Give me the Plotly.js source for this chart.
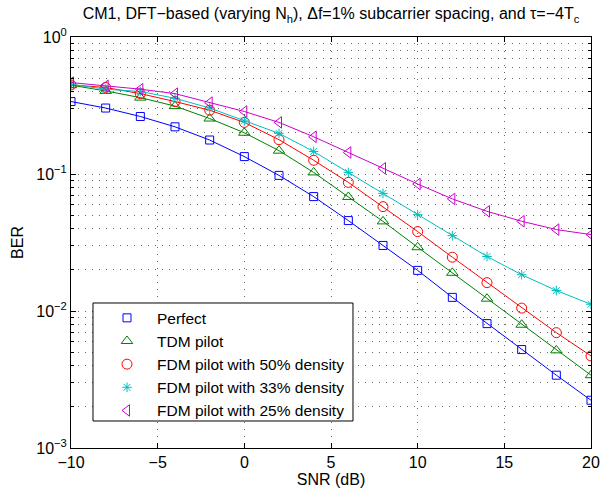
<!DOCTYPE html>
<html>
<head>
<meta charset="utf-8">
<script src="https://cdn.plot.ly/plotly-3.0.1.min.js"></script>
<style>html,body{margin:0;padding:0;background:#fff;}#plot{width:600px;height:493px;}</style>
</head>
<body>
<div id="plot"></div>
<script>
// ---- data ----
var snr = [-10, -8, -6, -4, -2, 0, 2, 4, 6, 8, 10, 12, 14, 16, 18, 20];
var perfect = [0.338, 0.303, 0.263, 0.221, 0.177, 0.134, 0.0977, 0.0684, 0.0457, 0.0301, 0.0198, 0.01257, 0.00809, 0.00523, 0.0034, 0.00223];
var tdmPilot = [0.445, 0.404, 0.361, 0.313, 0.254, 0.200, 0.148, 0.1027, 0.068, 0.0451, 0.0292, 0.0190, 0.0123, 0.00794, 0.00516, 0.0034];
var fdm50 = [0.447, 0.428, 0.386, 0.338, 0.292, 0.238, 0.178, 0.126, 0.0869, 0.0578, 0.038, 0.0247, 0.0161, 0.0105, 0.00695, 0.0047];
var fdm33 = [0.452, 0.416, 0.400, 0.357, 0.303, 0.244, 0.198, 0.146, 0.1027, 0.0722, 0.0505, 0.0355, 0.025, 0.0184, 0.0141, 0.0112];
var fdm25 = [0.465, 0.44, 0.416, 0.386, 0.332, 0.286, 0.238, 0.187, 0.1436, 0.110, 0.0845, 0.0658, 0.0534, 0.0452, 0.0393, 0.0361];
var seriesNames = ['Perfect', 'TDM pilot', 'FDM pilot with 50% density', 'FDM pilot with 33% density', 'FDM pilot with 25% density'];
var xTickVals = [-10, -5, 0, 5, 10, 15, 20];
var yTickVals = [0.001, 0.01, 0.1, 1];
var yTickText = ['10<sup>\u22123</sup>', '10<sup>\u22122</sup>', '10<sup>\u22121</sup>', '10<sup>0</sup>'];
var yMinorVals = [];
[0.001, 0.01, 0.1].forEach(function (d) { for (var k = 2; k <= 9; k++) yMinorVals.push(d * k); });

var seriesY = [perfect, tdmPilot, fdm50, fdm33, fdm25];
var colors = ['#0000ff', '#008000', '#ff0000', '#00bfbf', '#cc00cc'];
var symbols = ['square-open', 'triangle-up-open', 'circle-open', 'asterisk-open', 'triangle-left-open'];
var sizes = [8, 10, 10, 8, 10];

var FONT = 'Liberation Sans, Arial, Helvetica, sans-serif';
var traces = [];
seriesY.forEach(function (ys, i) {
  traces.push({
    x: snr, y: ys, type: 'scatter', mode: 'lines+markers', showlegend: false,
    line: {color: colors[i], width: 1},
    marker: {symbol: symbols[i], size: sizes[i], color: colors[i], line: {color: colors[i], width: 1}}
  });
});
seriesY.forEach(function (ys, i) {
  traces.push({
    x: [null], y: [null], type: 'scatter', mode: 'markers', name: seriesNames[i], showlegend: true,
    marker: {symbol: symbols[i], size: sizes[i], color: colors[i], line: {color: colors[i], width: 1}}
  });
});

var gridDash = '1px,6px';
var gridColor = '#666';
var layout = {
  width: 600, height: 493,
  margin: {l: 71, r: 9, t: 37, b: 45, pad: 0},
  paper_bgcolor: '#ffffff', plot_bgcolor: '#ffffff',
  font: {family: FONT, size: 16, color: '#000'},
  title: {
    text: 'CM1, DFT\u2212based (varying N<sub>h</sub>), \u0394f=1% subcarrier spacing, and \u03c4=\u22124T<sub>c</sub>',
    font: {family: FONT, size: 16, color: '#000'},
    x: 0.5, xref: 'paper', xanchor: 'center', y: 0.972, yref: 'container', yanchor: 'middle'
  },
  xaxis: {
    range: [-10, 20], tickmode: 'array', tickvals: xTickVals,
    ticks: 'inside', ticklen: 5, tickcolor: '#000', tickwidth: 1,
    showline: true, linecolor: '#000', linewidth: 1, mirror: 'ticks',
    showgrid: true, gridcolor: gridColor, gridwidth: 1, griddash: gridDash,
    zeroline: false, tickfont: {family: FONT, size: 16, color: '#000'},
    title: {text: 'SNR (dB)', font: {family: FONT, size: 16, color: '#000'}, standoff: 2}
  },
  yaxis: {
    type: 'log', range: [-3, 0], tickmode: 'array', tickvals: yTickVals, ticktext: yTickText,
    ticks: 'inside', ticklen: 5, tickcolor: '#000', tickwidth: 1,
    showline: true, linecolor: '#000', linewidth: 1, mirror: 'ticks',
    showgrid: true, gridcolor: gridColor, gridwidth: 1, griddash: gridDash,
    zeroline: false, tickfont: {family: FONT, size: 16, color: '#000'},
    minor: {tickmode: 'array', tickvals: yMinorVals, ticks: 'inside', ticklen: 3, tickcolor: '#000',
            showgrid: true, gridcolor: gridColor, gridwidth: 1, griddash: gridDash},
    title: {text: 'BER', font: {family: FONT, size: 16, color: '#000'}, standoff: 8}
  },
  shapes: [{
    type: 'rect', xref: 'paper', yref: 'paper', layer: 'above',
    x0: 0.0423, x1: 0.5423, y0: 0.0657, y1: 0.3528,
    line: {color: '#000', width: 1}, fillcolor: '#ffffff'
  }],
  legend: {
    x: 0.05, xanchor: 'left', y: 0.357, yanchor: 'top',
    bgcolor: 'rgba(0,0,0,0)', borderwidth: 0, itemwidth: 50,
    font: {family: FONT, size: 15.5, color: '#000'}, tracegroupgap: 0
  },
  showlegend: true
};

Plotly.newPlot('plot', traces, layout, {displayModeBar: false, staticPlot: true});
</script>
</body>
</html>
